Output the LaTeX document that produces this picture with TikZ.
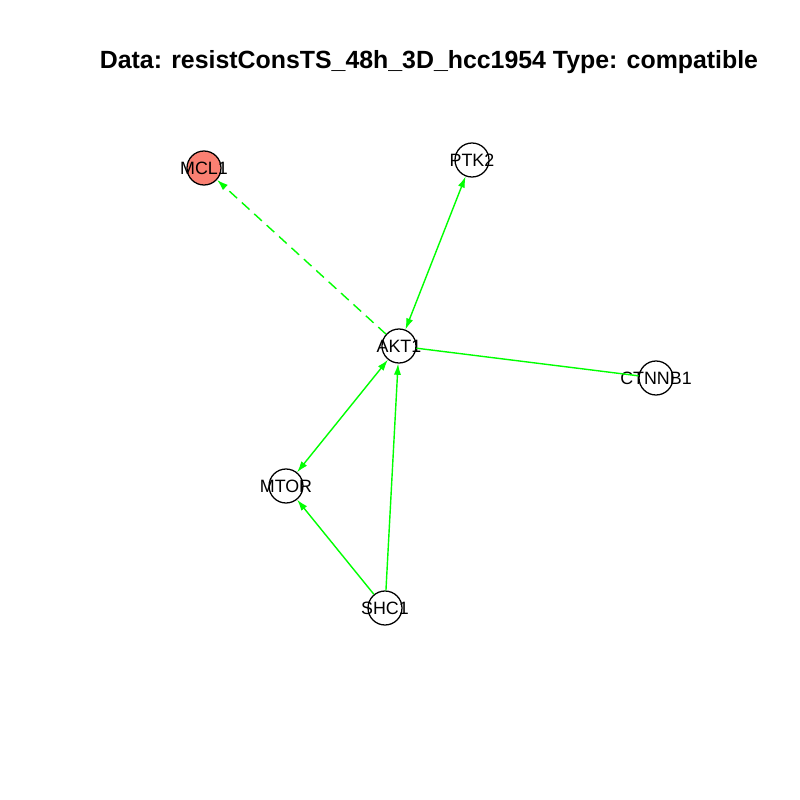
\documentclass[tikz,border=0pt]{standalone}
\usepackage{fontspec}
\setmainfont{Liberation Sans}
\usepackage{tikz}
\usetikzlibrary{arrows.meta}
\definecolor{hitgreen}{RGB}{0, 255, 0}
\definecolor{hitsalmon}{RGB}{250, 128, 114}

\begin{document}
\begin{tikzpicture}[
  gene/.style={circle, draw=black, line width=0.9pt, fill=white, minimum size=0.85cm, inner sep=0pt,
               label={[font=\fontsize{12.7}{14}\selectfont]center:#1}},
  target/.style={gene=#1, fill=hitsalmon},
  edge/.style={draw=hitgreen, line width=1pt},
  arrow/.style={edge, -{Latex[length=2.8mm, width=1.8mm]}},
  biarrow/.style={edge, {Latex[length=2.8mm, width=1.8mm]}-{Latex[length=2.8mm, width=1.8mm]}},
]
  \useasboundingbox (0,0) rectangle (20,-20);
  \node[font=\fontsize{17.7}{20}\selectfont\bfseries] (title) at (10.725,-1.55) {Data: resistConsTS\_48h\_3D\_hcc1954 Type: compatible};

  \node[target=MCL1] (mcl1) at (5.1,-4.2) {};
  \node[gene=PTK2] (ptk2) at (11.8,-4.0) {};
  \node[gene=AKT1] (akt1) at (9.975,-8.65) {};
  \node[gene=CTNNB1] (ctnnb1) at (16.4,-9.45) {};
  \node[gene=MTOR] (mtor) at (7.15,-12.15) {};
  \node[gene=SHC1] (shc1) at (9.625,-15.2) {};

  \draw[arrow, dash pattern=on 2.6mm off 1.6mm] (akt1) -- (mcl1);
  \draw[biarrow] (akt1) -- (ptk2);
  \draw[edge] (akt1) -- (ctnnb1);
  \draw[biarrow] (akt1) -- (mtor);
  \draw[arrow] (shc1) -- (mtor);
  \draw[arrow] (shc1) -- (akt1);
\end{tikzpicture}
\end{document}
